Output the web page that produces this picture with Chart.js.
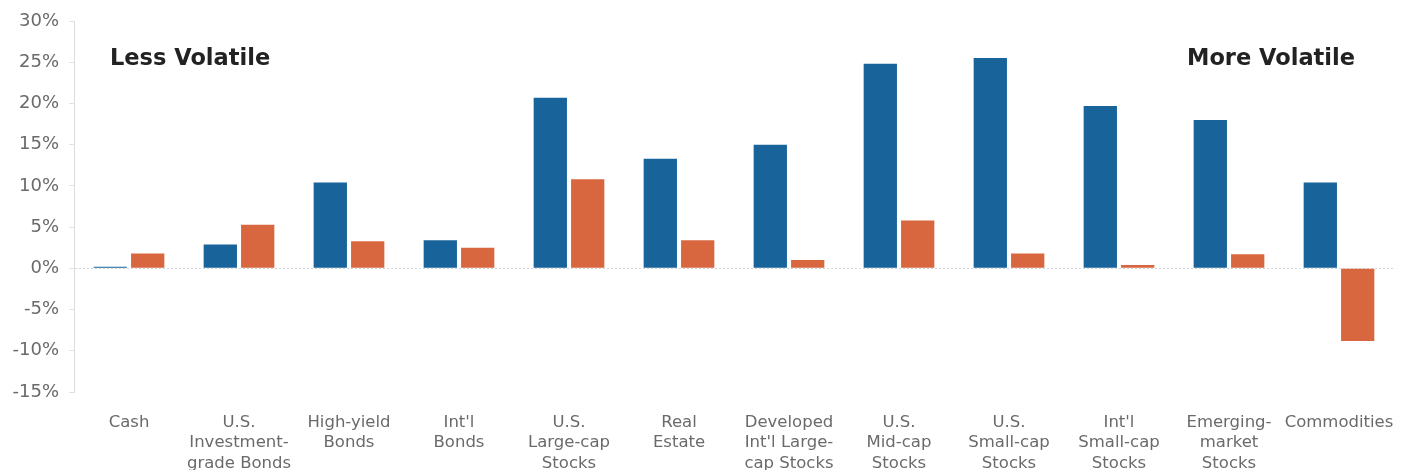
<!DOCTYPE html>
<html>
<head>
<meta charset="utf-8">
<script src="https://cdn.jsdelivr.net/npm/chart.js@4.4.1/dist/chart.umd.min.js"></script>
<style>
  html, body { margin: 0; padding: 0; background: #fff; }
  #wrap { width: 1402px; height: 470px; position: relative; }
</style>
</head>
<body>
<div id="wrap"><canvas id="volChart"></canvas></div>
<script>
// Kategori aset (label multi-baris)
const assetLabels = [
    ['Cash'],
    ['U.S.', 'Investment-', 'grade Bonds'],
    ['High-yield', 'Bonds'],
    ["Int'l", 'Bonds'],
    ['U.S.', 'Large-cap', 'Stocks'],
    ['Real', 'Estate'],
    ['Developed', "Int'l Large-", 'cap Stocks'],
    ['U.S.', 'Mid-cap', 'Stocks'],
    ['U.S.', 'Small-cap', 'Stocks'],
    ["Int'l", 'Small-cap', 'Stocks'],
    ['Emerging-', 'market', 'Stocks'],
    ['Commodities']
];
// Seri biru (volatilitas) dan oranye (return), dalam persen
const blueValues = [0.2, 2.9, 10.4, 3.4, 20.7, 13.3, 15.0, 24.8, 25.5, 19.7, 18.0, 10.4];
const orangeValues = [1.8, 5.3, 3.3, 2.5, 10.8, 3.4, 1.0, 5.8, 1.8, 0.4, 1.7, -8.8];
const yMin = -15, yMax = 30, yStep = 5;

const blueColor = '#17639a';
const orangeColor = '#d8673f';
const fontFamily = '"DejaVu Sans", sans-serif';

// Teks "Less Volatile" / "More Volatile"
const volatilityText = {
    id: 'volatilityText',
    afterDraw(chart) {
        const c = chart.ctx;
        c.save();
        c.font = 'bold 22.5px ' + fontFamily;
        c.fillStyle = '#222';
        c.textBaseline = 'middle';
        c.textAlign = 'left';
        c.fillText('Less Volatile', 110, 59);
        c.textAlign = 'right';
        c.fillText('More Volatile', 1355, 59);
        c.restore();
    }
};

const canvas = document.getElementById('volChart');
new Chart(canvas, {
    type: 'bar',
    data: {
        labels: assetLabels,
        datasets: [
            { label: 'Volatility', data: blueValues, backgroundColor: blueColor, borderWidth: 0 },
            { label: 'Return', data: orangeValues, backgroundColor: orangeColor, borderWidth: 0 }
        ]
    },
    options: {
        responsive: true,
        maintainAspectRatio: false,
        animation: false,
        layout: { padding: { top: 21, right: 8, left: 0, bottom: 0 } },
        datasets: { bar: { categoryPercentage: 0.68, barPercentage: 0.89 } },
        plugins: {
            legend: { display: false },
            tooltip: { enabled: false }
        },
        scales: {
            x: {
                grid: { display: false },
                border: { display: false },
                ticks: {
                    color: '#6a6a6a',
                    font: { family: fontFamily, size: 16.5, lineHeight: 1.25 },
                    maxRotation: 0,
                    autoSkip: false,
                    padding: 12
                },
                afterFit(scale) {
                    scale.height = 78;
                    // label Commodities boleh keluar sedikit, jangan sempitkan area plot
                    scale.paddingLeft = 0;
                    scale.paddingRight = 0;
                }
            },
            y: {
                min: yMin,
                max: yMax,
                ticks: {
                    stepSize: yStep,
                    color: '#6a6a6a',
                    font: { family: fontFamily, size: 18 },
                    padding: 10,
                    callback: v => v + '%'
                },
                grid: {
                    color: ctx => ctx.tick && ctx.tick.value === 0 ? '#d3d6dc' : 'rgba(0,0,0,0)',
                    tickColor: '#e2e2e2',
                    tickLength: 5,
                    lineWidth: 1
                },
                border: { color: '#dcdcdc', dash: [2, 2] },
                afterFit(scale) { scale.width = 74; }
            }
        }
    },
    plugins: [volatilityText]
});
</script>
</body>
</html>
